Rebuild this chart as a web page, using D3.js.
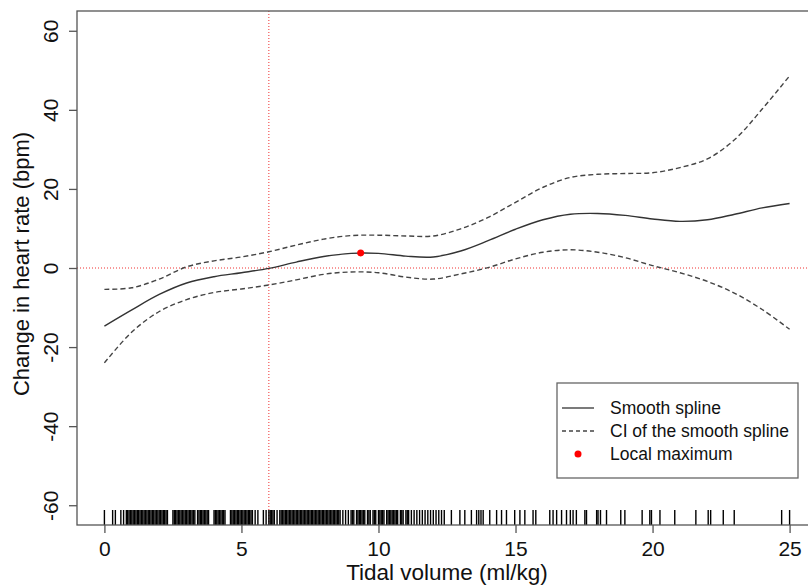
<!DOCTYPE html>
<html>
<head>
<meta charset="utf-8">
<script src="https://cdn.jsdelivr.net/npm/d3@7"></script>
<style>
  body { margin: 0; background: #fff; }
  svg { display: block; font-family: "Liberation Sans", Arial, sans-serif; }
</style>
</head>
<body>
<script>
// tidal volume grid (ml/kg)
const tv = [0,1,2,3,4,5,6,7,8,9,10,11,12,13,14,15,16,17,18,19,20,21,22,23,24,25];
// smooth spline fit + CI
const fit   = [-14.7,-10.6,-6.7,-3.8,-2.2,-1.2,-0.1,1.5,2.9,3.7,3.7,3.0,2.8,4.3,6.9,9.8,12.2,13.6,13.8,13.3,12.4,11.8,12.2,13.6,15.2,16.3];
const upper = [-5.4,-5.0,-2.8,0.3,1.8,2.8,4.1,5.8,7.3,8.2,8.3,8.1,8.1,9.9,12.8,16.6,20.4,22.9,23.7,23.9,24.1,25.4,27.6,32.5,40.2,48.6];
const lower = [-24,-16.2,-11,-8,-6.2,-5.3,-4.3,-3.0,-1.6,-1.0,-1.2,-2.3,-2.8,-1.5,0.1,2.3,4.0,4.6,4.0,2.6,0.6,-1.2,-3.4,-6.4,-10.5,-15.5];
const localMax = [9.35, 3.8];
const refX = 6, refY = 0;
const xTicks = [0,5,10,15,20,25];
const yTicks = [-60,-40,-20,0,20,40,60];
// observations (rug)
const rugVals = [0,0.3,0.4,0.6,0.7,0.8,0.85,0.9,0.95,1.0,1.05,1.1,1.15,1.2,1.25,1.3,1.35,1.4,1.45,1.5,1.55,1.6,1.65,1.7,1.75,1.8,1.85,1.9,1.95,
  2.0,2.05,2.1,2.15,2.2,2.25,2.3,2.5,2.55,2.6,2.65,2.7,2.75,2.8,2.85,2.9,2.95,3.0,3.05,3.1,3.15,3.2,3.25,3.3,3.4,3.45,3.5,3.55,3.6,3.65,3.7,3.75,3.8,
  4.0,4.05,4.1,4.15,4.2,4.25,4.3,4.35,4.4,4.6,4.65,4.7,4.75,4.8,4.85,4.9,4.95,5.0,5.05,5.1,5.15,5.2,5.25,5.3,5.35,5.4,5.5,5.6,5.8,5.9,
  6.0,6.05,6.1,6.15,6.2,6.3,6.4,6.45,6.5,6.55,6.6,6.65,6.7,6.75,6.8,6.85,6.9,6.95,7.0,7.05,7.1,7.15,7.2,7.25,7.3,7.35,7.4,7.45,7.5,7.55,7.6,7.65,
  7.7,7.75,7.8,7.85,7.9,7.95,8.0,8.05,8.1,8.15,8.2,8.25,8.3,8.35,8.4,8.45,8.5,8.55,8.6,8.7,8.8,8.9,
  9.0,9.05,9.1,9.2,9.25,9.3,9.35,9.4,9.45,9.5,9.6,9.65,9.7,9.8,9.85,9.9,10.0,10.05,10.1,10.15,10.2,10.3,10.35,10.4,10.45,10.5,10.55,10.6,10.65,
  10.7,10.8,10.85,10.9,11.0,11.05,11.1,11.2,11.3,11.4,11.5,11.6,11.7,11.8,11.9,12.0,12.1,12.2,12.3,12.4,
  12.66,12.97,13.15,13.39,13.58,13.66,13.74,13.82,14.06,14.31,14.49,14.67,14.97,15.16,15.34,15.64,15.74,16.25,16.37,16.5,16.68,16.86,
  17.0,17.1,17.22,17.53,17.59,17.96,18.01,18.1,18.32,18.84,18.99,19.62,19.9,19.96,20.27,20.81,21.58,22.03,22.12,22.58,22.98,24.71,25];

const legendItems = ["Smooth spline", "CI of the smooth spline", "Local maximum"];

const width = 808, height = 585;
const svg = d3.select('body').append('svg')
  .attr('width', width)
  .attr('height', height);

const x = d3.scaleLinear().domain([-1, 26]).range([77, 817]);
const y = d3.scaleLinear().domain([-65, 65]).range([525, 11]);

const grey = '#555';

// reference lines
svg.append('line')
  .attr('x1', x(refX)).attr('x2', x(refX))
  .attr('y1', y(65)).attr('y2', y(-65))
  .attr('stroke', '#f03030').attr('stroke-width', 1)
  .attr('stroke-dasharray', '1,2');
svg.append('line')
  .attr('x1', x(-1)).attr('x2', x(26))
  .attr('y1', y(refY)).attr('y2', y(refY))
  .attr('stroke', '#f03030').attr('stroke-width', 1)
  .attr('stroke-dasharray', '1,2');

// rug
svg.append('g').selectAll('line')
  .data(rugVals)
  .enter().append('line')
  .attr('x1', d => x(d)).attr('x2', d => x(d))
  .attr('y1', y(-65) - 15).attr('y2', y(-65))
  .attr('stroke', '#000')
  .attr('stroke-width', 1.4);

const line = d3.line()
  .x((d, i) => x(tv[i]))
  .y(d => y(d))
  .curve(d3.curveCatmullRom.alpha(0.5));

svg.append('path')
  .attr('d', line(upper))
  .attr('fill', 'none').attr('stroke', '#444').attr('stroke-width', 1.4)
  .attr('stroke-dasharray', '5,3');
svg.append('path')
  .attr('d', line(lower))
  .attr('fill', 'none').attr('stroke', '#444').attr('stroke-width', 1.4)
  .attr('stroke-dasharray', '5,3');
svg.append('path')
  .attr('d', line(fit))
  .attr('fill', 'none').attr('stroke', '#333').attr('stroke-width', 1.4);

svg.append('circle')
  .attr('cx', x(localMax[0])).attr('cy', y(localMax[1]))
  .attr('r', 3.5).attr('fill', '#f00');

// box
svg.append('rect')
  .attr('x', x(-1)).attr('y', y(65))
  .attr('width', x(26) - x(-1)).attr('height', y(-65) - y(65))
  .attr('fill', 'none').attr('stroke', grey).attr('stroke-width', 1.3);

// axes (plain hyphen minus like R)
const fmt = d => String(d);
const xAxis = svg.append('g')
  .attr('transform', 'translate(0,' + y(-65) + ')')
  .call(d3.axisBottom(x).tickValues(xTicks).tickFormat(fmt).tickSize(8).tickPadding(4));
xAxis.select('.domain').remove();
xAxis.selectAll('line').attr('stroke', grey).attr('stroke-width', 1.3);
xAxis.selectAll('text')
  .attr('font-size', 21).attr('font-family', '"Liberation Sans", Arial, sans-serif')
  .attr('fill', '#111').attr('dy', null).attr('y', 31);

const yAxis = svg.append('g')
  .attr('transform', 'translate(' + x(-1) + ',0)')
  .call(d3.axisLeft(y).tickValues(yTicks).tickFormat(fmt).tickSize(8));
yAxis.select('.domain').remove();
yAxis.selectAll('line').attr('stroke', grey).attr('stroke-width', 1.3);
yAxis.selectAll('text')
  .attr('font-size', 21).attr('font-family', '"Liberation Sans", Arial, sans-serif')
  .attr('fill', '#111')
  .attr('transform', 'rotate(-90)')
  .attr('text-anchor', 'middle')
  .attr('x', 0).attr('dy', null).attr('y', -19);

// titles
svg.append('text')
  .attr('x', (x(-1) + x(26)) / 2).attr('y', 580)
  .attr('text-anchor', 'middle').attr('font-size', 22.5).attr('fill', '#111')
  .text('Tidal volume (ml/kg)');
svg.append('text')
  .attr('transform', 'translate(29,264) rotate(-90)')
  .attr('text-anchor', 'middle').attr('font-size', 22).attr('fill', '#111')
  .text('Change in heart rate (bpm)');

// legend
const lg = svg.append('g').attr('transform', 'translate(557,383)');
lg.append('rect')
  .attr('width', 241).attr('height', 95)
  .attr('fill', '#fff').attr('stroke', '#666').attr('stroke-width', 1.3);
const rows = lg.selectAll('g.item')
  .data(legendItems)
  .enter().append('g')
  .attr('class', 'item')
  .attr('transform', (d, i) => 'translate(0,' + (25 + i * 23) + ')');
rows.append('text')
  .attr('x', 53).attr('y', 6)
  .attr('font-size', 17.5).attr('fill', '#111')
  .text(d => d);
rows.filter((d, i) => i < 2).append('line')
  .attr('x1', 5).attr('x2', 37)
  .attr('stroke', (d, i) => i === 0 ? '#333' : '#444')
  .attr('stroke-width', 1.3)
  .attr('stroke-dasharray', (d, i) => i === 0 ? null : '4,3');
rows.filter((d, i) => i === 2).append('circle')
  .attr('cx', 21).attr('r', 3.5).attr('fill', '#f00');
</script>
</body>
</html>
